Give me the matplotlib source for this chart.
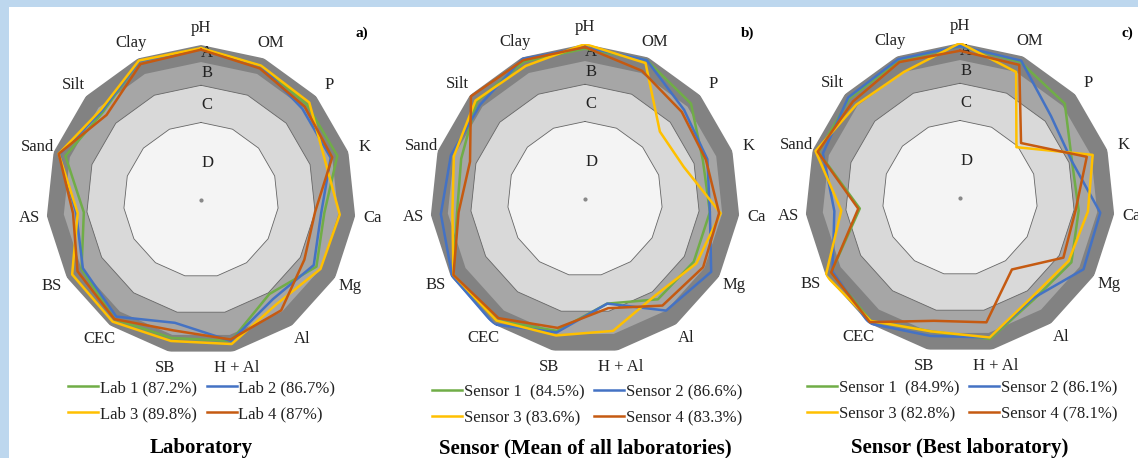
import numpy as np
import matplotlib.pyplot as plt
from matplotlib.patches import Rectangle

plt.rcParams['font.family'] = ['Liberation Serif', 'DejaVu Serif']

# Propiedades del suelo (ejes del radar, en sentido horario desde arriba)
propiedades = ["pH", "OM", "P", "K", "Ca", "Mg", "Al", "H + Al", "SB",
               "CEC", "BS", "AS", "Sand", "Silt", "Clay"]

# Clases de desempeño (bandas del fondo)
bandas = ["A", "B", "C", "D"]
limites_bandas = [100, 89, 74, 50]

# a) Laboratorio
lab1 = [98, 95, 92, 92.5, 80, 86, 75, 93, 91, 95, 89, 76, 92, 85, 98]
lab2 = [98, 95, 88, 88, 78, 84, 79, 93, 81, 93, 88, 81, 96, 86, 98]
lab3 = [98, 95, 94, 84, 90, 89, 83, 95, 93, 97, 96, 80, 96.5, 87, 98.5]
lab4 = [97, 93, 90, 89, 74, 77, 88, 92, 86, 95, 92, 83, 96.5, 82, 96]
etiquetas_lab = ["Lab 1 (87.2%)", "Lab 2 (86.7%)", "Lab 3 (89.8%)", "Lab 4 (87%)"]

# b) Sensor (media de todos los laboratorios)
media_s1 = [97, 98, 92, 80, 81, 81, 80, 69, 87, 97, 98, 83, 84, 94, 97]
media_s2 = [98, 98, 86, 83, 81, 94, 89, 69, 88, 100, 99, 93.5, 91, 91, 99]
media_s3 = [100, 96, 65, 67, 88, 83, 77, 87, 90, 97, 98, 86, 89, 95, 94]
media_s4 = [98, 90.5, 84, 82, 87, 88, 85, 72, 85, 95, 98, 82, 78, 99, 98]
etiquetas_media = ["Sensor 1  (84.5%)", "Sensor 2 (86.6%)",
                   "Sensor 3 (83.6%)", "Sensor 4 (83.3%)"]

# c) Sensor (mejor laboratorio)
mejor_s1 = [98, 96, 91, 76, 77, 83, 81, 93, 88, 98, 96, 65, 96, 96, 97]
mejor_s2 = [98, 97, 79, 76, 91, 92, 80, 92, 91, 100, 95, 81.5, 93, 97, 98]
mejor_s3 = [100, 89, 49, 90, 83, 81, 79, 92, 88, 98, 100, 77, 98, 90, 89]
mejor_s4 = [95, 94, 53, 86, 75, 77, 57, 82, 81, 99, 96, 66, 96.5, 93, 96]
etiquetas_mejor = ["Sensor 1  (84.9%)", "Sensor 2 (86.1%)",
                   "Sensor 3 (82.8%)", "Sensor 4 (78.1%)"]

colores = ["#70AD47", "#4472C4", "#FFC000", "#C55A11"]
colores_bandas = ["#828282", "#a6a6a6", "#d9d9d9", "#f4f4f4"]

W, H = 1138, 458
fig = plt.figure(figsize=(W / 100, H / 100), dpi=100)
fig.patch.set_facecolor("#bdd7ee")
# Marco blanco interior (borde azul arriba e izquierda)
fig.add_artist(Rectangle((9 / W, 0), 1, (H - 7) / H, transform=fig.transFigure,
                         facecolor="white", edgecolor="none", zorder=0))

n = len(propiedades)
angulos = np.linspace(0, 2 * np.pi, n, endpoint=False)
angulos_c = np.append(angulos, angulos[0])


def radar(cx, cy, series, etiquetas, leyenda_xy, titulo, letra, letra_xy):
    R = 155
    ax = fig.add_axes([(cx - R) / W, (H - cy - R) / H, 2 * R / W, 2 * R / H],
                      projection="polar")
    ax.set_theta_zero_location("N")
    ax.set_theta_direction(-1)
    ax.set_ylim(0, 100)
    ax.set_axis_off()

    # Bandas de fondo
    for nivel, color in zip(limites_bandas, colores_bandas):
        ax.fill(angulos_c, [nivel] * (n + 1), color=color, lw=0, zorder=1)
    for nivel in limites_bandas[2:]:
        ax.plot(angulos_c, [nivel] * (n + 1), color="#666666", lw=0.6, zorder=2)
    for nombre, r in zip(bandas, [95, 82, 61, 24]):
        ax.annotate(nombre, xy=(0, r), xytext=(4.5, 0), textcoords="offset points",
                    ha="center", va="center", fontsize=12, color="#222222", zorder=3)
    ax.plot(0, 0, "o", ms=2, color="#888888", zorder=3)

    # Series
    handles = []
    for valores, color in zip(series, colores):
        linea, = ax.plot(angulos_c, valores + valores[:1], color=color, lw=1.8, zorder=4)
        handles.append(linea)

    # Nombres de las propiedades
    for ang, nombre in zip(angulos, propiedades):
        ax.text(ang, 111, nombre, ha="center", va="center", fontsize=12,
                color="#222222")

    # Leyenda en dos columnas (fila 1: series 1 y 2)
    orden = [0, 2, 1, 3]
    fig.legend([handles[i] for i in orden], [etiquetas[i] for i in orden],
               loc="upper left", bbox_to_anchor=(leyenda_xy[0] / W, 1 - leyenda_xy[1] / H),
               ncol=2, frameon=False, fontsize=12, handlelength=1.8,
               handletextpad=0.1, columnspacing=0.6, labelspacing=0.6,
               borderpad=0, borderaxespad=0, labelcolor="#222222")

    fig.text(cx / W, 1 - 448 / H, titulo, ha="center", va="center",
             fontsize=15, fontweight="bold")
    fig.text(letra_xy[0] / W, 1 - letra_xy[1] / H, letra, ha="center", va="center",
             fontsize=11, fontweight="bold")


radar(201, 200, [lab1, lab2, lab3, lab4], etiquetas_lab, (68, 380),
      "Laboratory", "a)", (362, 33))
radar(585, 199, [media_s1, media_s2, media_s3, media_s4], etiquetas_media, (432, 384),
      "Sensor (Mean of all laboratories)", "b)", (748, 33))
radar(960, 198, [mejor_s1, mejor_s2, mejor_s3, mejor_s4], etiquetas_mejor, (807, 380),
      "Sensor (Best laboratory)", "c)", (1127, 33))

fig.savefig("out.png", dpi=100, facecolor=fig.get_facecolor())
